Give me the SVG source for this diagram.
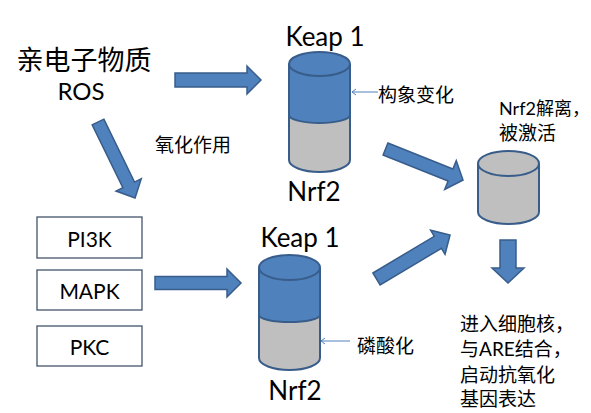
<svg xmlns="http://www.w3.org/2000/svg" width="591" height="413" viewBox="0 0 591 413">
<style>
.blk{fill:#4F81BD;stroke:#385D8A;stroke-width:1.5;stroke-linejoin:miter}
.blue{fill:#4F81BD}
.gray{fill:#BFBFBF}
.edge{fill:none;stroke:#385D8A;stroke-width:2}
.thin{fill:none;stroke:#4F81BD;stroke-width:1}
.box{fill:#FFFFFF;stroke:#44546A;stroke-width:1.3}
.lat{font-family:Lato,"Noto Sans CJK SC",sans-serif;fill:#000}
.cjk{font-family:"Noto Sans CJK SC","Noto Sans",sans-serif;fill:#000}
</style>
<rect width="591" height="413" fill="#FFFFFF"/>
<g id="connectors">
<path class="blk" d="M175,73 L247,73 L247,66 L261,80 L247,94 L247,87 L175,87 Z"/>
<path class="blk" transform="translate(98,122) rotate(64)" d="M0,-6.5 L70,-6.5 L70,-14 L84.5,0 L70,14 L70,6.5 L0,6.5 Z"/>
<path class="blk" d="M155,276.5 L227,276.5 L227,269 L241,283 L227,297 L227,289.5 L155,289.5 Z"/>
<path class="blk" transform="translate(385.5,149) rotate(21.8)" d="M0,-6.5 L70,-6.5 L70,-15.5 L83.5,0 L70,15.5 L70,6.5 L0,6.5 Z"/>
<path class="blk" transform="translate(376.5,279) rotate(-30.9)" d="M0,-7 L71.5,-7 L71.5,-14 L85.7,0 L71.5,14 L71.5,7 L0,7 Z"/>
<path class="blk" d="M500,240 L516,240 L516,268 L524,268 L508,283 L492,268 L500,268 Z"/>
<path class="thin" d="M378,92 L352,92 M356,89 L352,92 L356,95"/>
<path class="thin" d="M350,341 L321,341 M325,338 L321,341 L325,344"/>
</g>
<g id="source">
<text class="cjk" x="84" y="70" font-size="27" text-anchor="middle">亲电子物质</text>
<text class="lat" x="81" y="100" font-size="24" text-anchor="middle">ROS</text>
</g>
<g id="label-oxidation">
<text class="cjk" x="155" y="152" font-size="19">氧化作用</text>
</g>
<g id="cylinder-top">
<text class="lat" x="325" y="46" font-size="26" text-anchor="middle">Keap 1</text>
<path class="gray" d="M289,115 L289,160 A30.5,12 0 0 0 350,160 L350,115 Z"/>
<path class="blue" d="M289,64 L289,115 A30.5,8 0 0 0 350,115 L350,64 Z"/>
<path class="edge" d="M289,64 L289,160 A30.5,12 0 0 0 350,160 L350,64"/>
<path class="edge" d="M289,115 A30.5,8 0 0 0 350,115"/>
<ellipse class="edge" cx="319.5" cy="64" rx="30.5" ry="12" style="fill:#4F81BD"/>
<text class="lat" x="314" y="201" font-size="26" text-anchor="middle">Nrf2</text>
</g>
<g id="label-conformation">
<text class="cjk" x="378" y="102" font-size="19">构象变化</text>
</g>
<g id="cylinder-released">
<text class="lat" x="499" y="115" font-size="18">Nrf2<tspan class="cjk">解离，</tspan></text>
<text class="cjk" x="499" y="140" font-size="19">被激活</text>
<path class="gray" d="M478,163.5 L478,212 A30.5,12 0 0 0 539,212 L539,163.5 Z"/>
<path class="edge" d="M478,163.5 L478,212 A30.5,12 0 0 0 539,212 L539,163.5"/>
<ellipse class="edge" cx="508.5" cy="163.5" rx="30.5" ry="12.5" style="fill:#BFBFBF"/>
</g>
<g id="kinase-pi3k">
<rect class="box" x="37" y="217" width="105" height="41"/>
<text class="lat" x="89.5" y="247" font-size="21" text-anchor="middle">PI3K</text>
</g>
<g id="kinase-mapk">
<rect class="box" x="37" y="270" width="105" height="40"/>
<text class="lat" x="89.5" y="299" font-size="21" text-anchor="middle">MAPK</text>
</g>
<g id="kinase-pkc">
<rect class="box" x="37" y="326" width="105" height="40"/>
<text class="lat" x="89.5" y="355" font-size="21" text-anchor="middle">PKC</text>
</g>
<g id="cylinder-bottom">
<text class="lat" x="300" y="247" font-size="26" text-anchor="middle">Keap 1</text>
<path class="gray" d="M259,315 L259,358 A30.5,12 0 0 0 320,358 L320,315 Z"/>
<path class="blue" d="M259,267.5 L259,315 A30.5,7 0 0 0 320,315 L320,267.5 Z"/>
<path class="edge" d="M259,267.5 L259,358 A30.5,12 0 0 0 320,358 L320,267.5"/>
<path class="edge" d="M259,315 A30.5,7 0 0 0 320,315"/>
<ellipse class="edge" cx="289.5" cy="267.5" rx="30.5" ry="12.5" style="fill:#4F81BD"/>
<text class="lat" x="295" y="400" font-size="26" text-anchor="middle">Nrf2</text>
</g>
<g id="label-phosphorylation">
<text class="cjk" x="357" y="353" font-size="19">磷酸化</text>
</g>
<g id="outcome">
<text class="cjk" x="460" y="330.5" font-size="19">进入细胞核，</text>
<text class="cjk" x="460" y="356" font-size="19">与<tspan class="lat">ARE</tspan>结合，</text>
<text class="cjk" x="460" y="381.5" font-size="19">启动抗氧化</text>
<text class="cjk" x="460" y="406" font-size="19">基因表达</text>
</g>
</svg>
